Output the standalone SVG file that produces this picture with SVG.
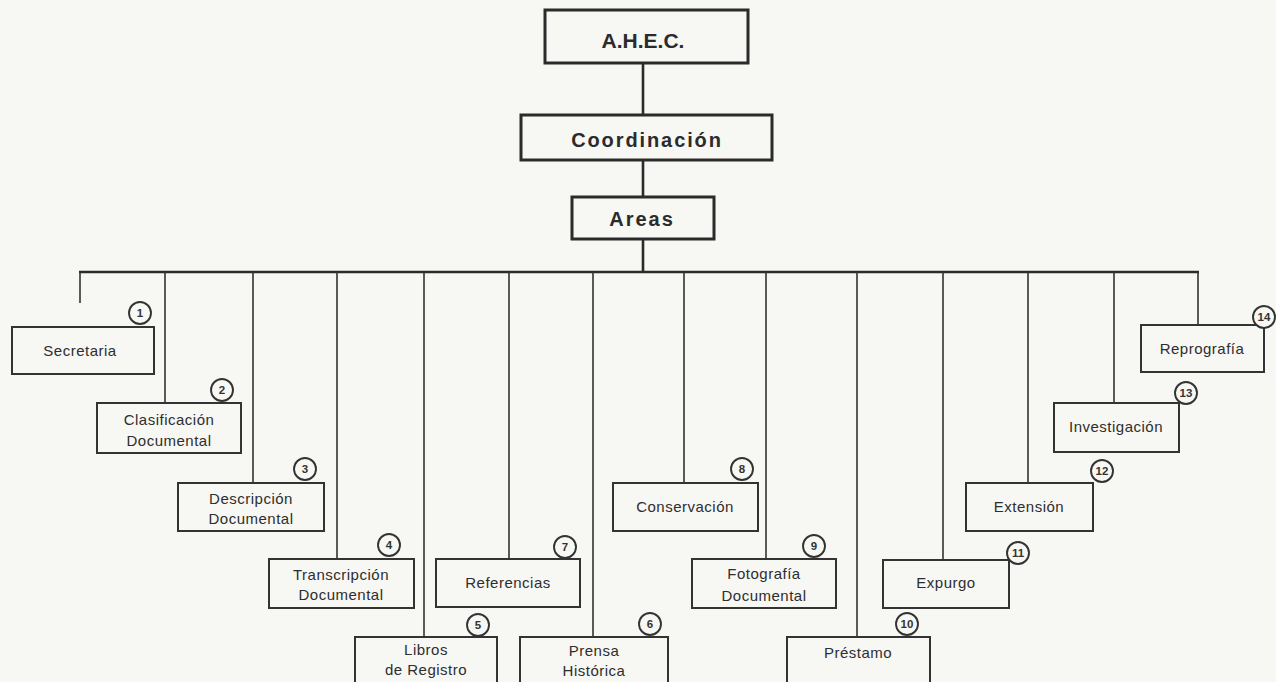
<svg xmlns="http://www.w3.org/2000/svg" width="1276" height="682" viewBox="0 0 1276 682">
<style>
.bg{fill:#f7f7f4}
.top{fill:none;stroke:#2b2b2b;stroke-width:3}
.box{fill:none;stroke:#333;stroke-width:2}
.ln{fill:none;stroke:#333;stroke-width:1.6}
.bus{fill:none;stroke:#2b2b2b;stroke-width:2.6}
.tt{font-family:"Liberation Sans",Arial,sans-serif;font-weight:bold;fill:#2b2b2b;text-anchor:middle}
.lb{font-family:"Liberation Sans",Arial,sans-serif;font-size:15px;letter-spacing:0.5px;fill:#2e2e2e;text-anchor:middle}
.cc{fill:#f7f7f4;stroke:#333;stroke-width:1.9}
.nn{font-family:"Liberation Sans",Arial,sans-serif;font-size:11.5px;font-weight:bold;fill:#333;text-anchor:middle}
</style>
<rect class="bg" x="0" y="0" width="1276" height="682"/>
<g id="connectors">
<path class="bus" d="M643 63V115M643 160V197M643 239V272M79 272H1199"/>
<path class="ln" d="M80 272V303M165 272V403M253 272V483M337 272V559M424 272V637M509 272V559M593 272V637M684 272V483M766 272V559M857 272V637M943 272V560M1028 272V483M1114 272V403M1198 272V325"/>
</g>
<g id="ahec"><rect class="top" x="545" y="10" width="203" height="53"/><text class="tt" x="643" y="48" font-size="21">A.H.E.C.</text></g>
<g id="coordinacion"><rect class="top" x="521" y="115" width="251" height="45"/><text class="tt" x="647" y="147" font-size="20" letter-spacing="1.9">Coordinación</text></g>
<g id="areas"><rect class="top" x="572" y="197" width="142" height="42"/><text class="tt" x="642" y="226" font-size="20" letter-spacing="2">Areas</text></g>

<g id="n1"><rect class="box" x="12" y="327" width="142" height="47"/><text class="lb" x="80" y="356">Secretaria</text><circle class="cc" cx="140" cy="313" r="11"/><text class="nn" x="140" y="317">1</text></g>
<g id="n2"><rect class="box" x="97" y="403" width="144" height="50"/><text class="lb" x="169" y="425">Clasificación</text><text class="lb" x="169" y="446">Documental</text><circle class="cc" cx="222" cy="390" r="11"/><text class="nn" x="222" y="394">2</text></g>
<g id="n3"><rect class="box" x="178" y="483" width="146" height="48"/><text class="lb" x="251" y="504">Descripción</text><text class="lb" x="251" y="524">Documental</text><circle class="cc" cx="305" cy="469" r="11"/><text class="nn" x="305" y="473">3</text></g>
<g id="n4"><rect class="box" x="269" y="559" width="145" height="49"/><text class="lb" x="341" y="580">Transcripción</text><text class="lb" x="341" y="600">Documental</text><circle class="cc" cx="389" cy="545" r="11"/><text class="nn" x="389" y="549">4</text></g>
<g id="n5"><rect class="box" x="355" y="637" width="142" height="55"/><text class="lb" x="426" y="655">Libros</text><text class="lb" x="426" y="675">de Registro</text><circle class="cc" cx="478" cy="625" r="11"/><text class="nn" x="478" y="629">5</text></g>
<g id="n6"><rect class="box" x="520" y="637" width="148" height="55"/><text class="lb" x="594" y="656">Prensa</text><text class="lb" x="594" y="676">Histórica</text><circle class="cc" cx="650" cy="624" r="11"/><text class="nn" x="650" y="628">6</text></g>
<g id="n7"><rect class="box" x="436" y="559" width="144" height="48"/><text class="lb" x="508" y="588">Referencias</text><circle class="cc" cx="565" cy="547" r="11"/><text class="nn" x="565" y="551">7</text></g>
<g id="n8"><rect class="box" x="613" y="483" width="145" height="48"/><text class="lb" x="685" y="512">Conservación</text><circle class="cc" cx="742" cy="469" r="11"/><text class="nn" x="742" y="473">8</text></g>
<g id="n9"><rect class="box" x="692" y="559" width="144" height="49"/><text class="lb" x="764" y="579">Fotografía</text><text class="lb" x="764" y="601">Documental</text><circle class="cc" cx="814" cy="546" r="11"/><text class="nn" x="814" y="550">9</text></g>
<g id="n10"><rect class="box" x="787" y="637" width="143" height="55"/><text class="lb" x="858" y="658">Préstamo</text><circle class="cc" cx="907" cy="624" r="11"/><text class="nn" x="907" y="628">10</text></g>
<g id="n11"><rect class="box" x="883" y="560" width="126" height="48"/><text class="lb" x="946" y="588">Expurgo</text><circle class="cc" cx="1018" cy="553" r="11"/><text class="nn" x="1018" y="557">11</text></g>
<g id="n12"><rect class="box" x="966" y="483" width="127" height="48"/><text class="lb" x="1029" y="512">Extensión</text><circle class="cc" cx="1102" cy="471" r="11"/><text class="nn" x="1102" y="475">12</text></g>
<g id="n13"><rect class="box" x="1054" y="403" width="125" height="49"/><text class="lb" x="1116" y="432">Investigación</text><circle class="cc" cx="1186" cy="393" r="11"/><text class="nn" x="1186" y="397">13</text></g>
<g id="n14"><rect class="box" x="1141" y="325" width="123" height="47"/><text class="lb" x="1202" y="354">Reprografía</text><circle class="cc" cx="1264" cy="317" r="11"/><text class="nn" x="1264" y="321">14</text></g>
</svg>
